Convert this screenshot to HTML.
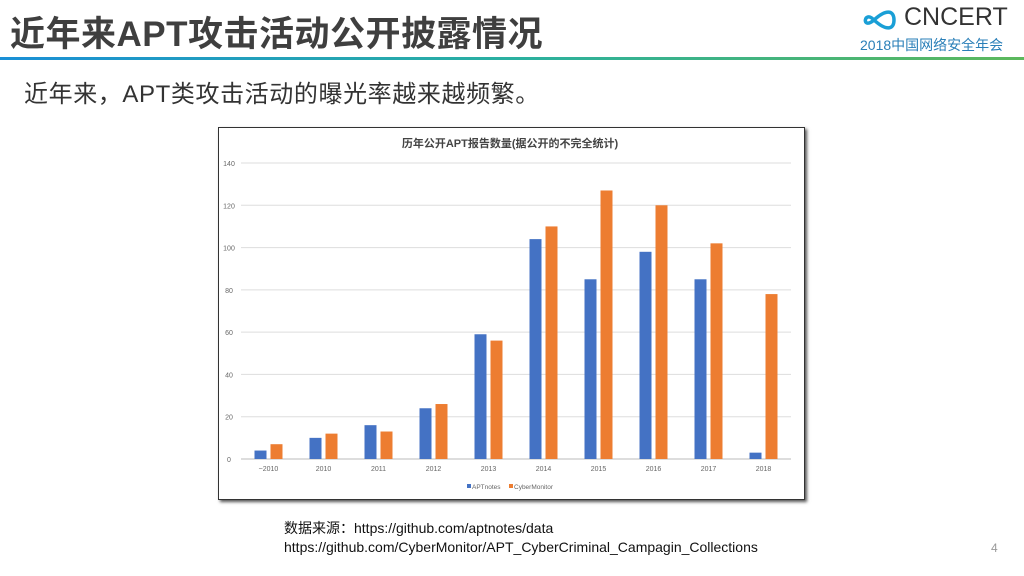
<!DOCTYPE html>
<html><head><meta charset="utf-8"><style>
body{margin:0;width:1024px;height:576px;background:#fff;position:relative;overflow:hidden;font-family:"Liberation Sans","Noto Sans CJK SC",sans-serif}
.abs{position:absolute;white-space:nowrap}
</style></head><body>
<div class="abs" style="left:10px;top:6px;font-size:35px;font-weight:bold;color:#3f3f3f;letter-spacing:0.5px">近年来APT攻击活动公开披露情况</div>
<div class="abs" style="left:858px;top:3px">
<svg width="46" height="28" style="position:absolute;left:0;top:3px"><path d="M16 14 C6 3,3 25,16 14 C28 3,36 4,36 14 C36 24,28 25,16 14" fill="none" stroke="#1a9fd6" stroke-width="3.5"/></svg>
<div class="abs" style="left:46px;top:0;font-size:25px;color:#333">CNCERT</div>
<div class="abs" style="left:2px;top:32px;font-size:14px;color:#2a7fb8">2018中国网络安全年会</div>
</div>
<div class="abs" style="left:0;top:57px;width:1024px;height:3px;background:linear-gradient(90deg,#1a8fd6,#2ab0a0,#5cb85c)"></div>
<div class="abs" style="left:24px;top:74px;font-size:24px;color:#333;letter-spacing:0.6px">近年来，APT类攻击活动的曝光率越来越频繁。</div>
<div class="abs" style="left:218px;top:127px;width:585px;height:371px;border:1px solid #333;box-shadow:2px 2px 3px #555;background:#fff"></div>
<svg id="chart" class="abs" style="left:0;top:0" width="1024" height="576"></svg>
<div class="abs" style="left:284px;top:519px;font-size:14px;color:#111;line-height:19px">数据来源：https://github.com/aptnotes/data<br>https://github.com/CyberMonitor/APT_CyberCriminal_Campagin_Collections</div>
<div class="abs" style="left:991px;top:541px;font-size:12px;color:#999">4</div>
<script>
const categories=["~2010","2010","2011","2012","2013","2014","2015","2016","2017","2018"];
const aptnotes=[4,10,16,24,59,104,85,98,85,3];
const cyberMonitor=[7,12,13,26,56,110,127,120,102,78];
const yTicks=[0,20,40,60,80,100,120,140];
const svg=document.getElementById('chart');const NS='http://www.w3.org/2000/svg';
const x0=241,x1=791,y0=459,y1=163;
const y=v=>y0-(v/140)*(y0-y1);
const band=(x1-x0)/categories.length;
const cx=i=>x0+band*(i+0.5);
function mk(t,a,txt){const e=document.createElementNS(NS,t);for(const k in a)e.setAttribute(k,a[k]);if(txt!=null)e.textContent=txt;svg.appendChild(e);return e;}
let t=mk('text',{x:510,y:147,'font-size':11,'font-weight':'bold','text-anchor':'middle',fill:'#444'},'历年公开APT报告数量(据公开的不完全统计)');


yTicks.forEach(v=>{
 const l=mk('line',{x1:x0,x2:x1,y1:y(v),y2:y(v),stroke:v===0?'#bbb':'#ddd','stroke-width':1});
 
 
 const tx=mk('text',{x:229,y:y(v)+3,'font-size':7,'text-anchor':'middle',fill:'#666'},v);
 
 
});
categories.forEach((c,i)=>{
 const a=mk('rect',{x:cx(i)-14,y:y(aptnotes[i]),width:12,height:y0-y(aptnotes[i]),fill:'#4472c4'});
 
 
 const b=mk('rect',{x:cx(i)+2,y:y(cyberMonitor[i]),width:12,height:y0-y(cyberMonitor[i]),fill:'#ed7d31'});
 
 
 const tx=mk('text',{x:cx(i),y:471,'font-size':7,'text-anchor':'middle',fill:'#666'},c);
 
 
});
const lg=[['#4472c4','APTnotes',467],['#ed7d31','CyberMonitor',509]];
lg.forEach(([col,name,lx])=>{
 const r=mk('rect',{x:lx,y:484,width:4,height:4,fill:col});
 
 
 const tx=mk('text',{x:lx+5,y:489,'font-size':6.5,fill:'#666'},name);
 
 
});
</script>
</body></html>
